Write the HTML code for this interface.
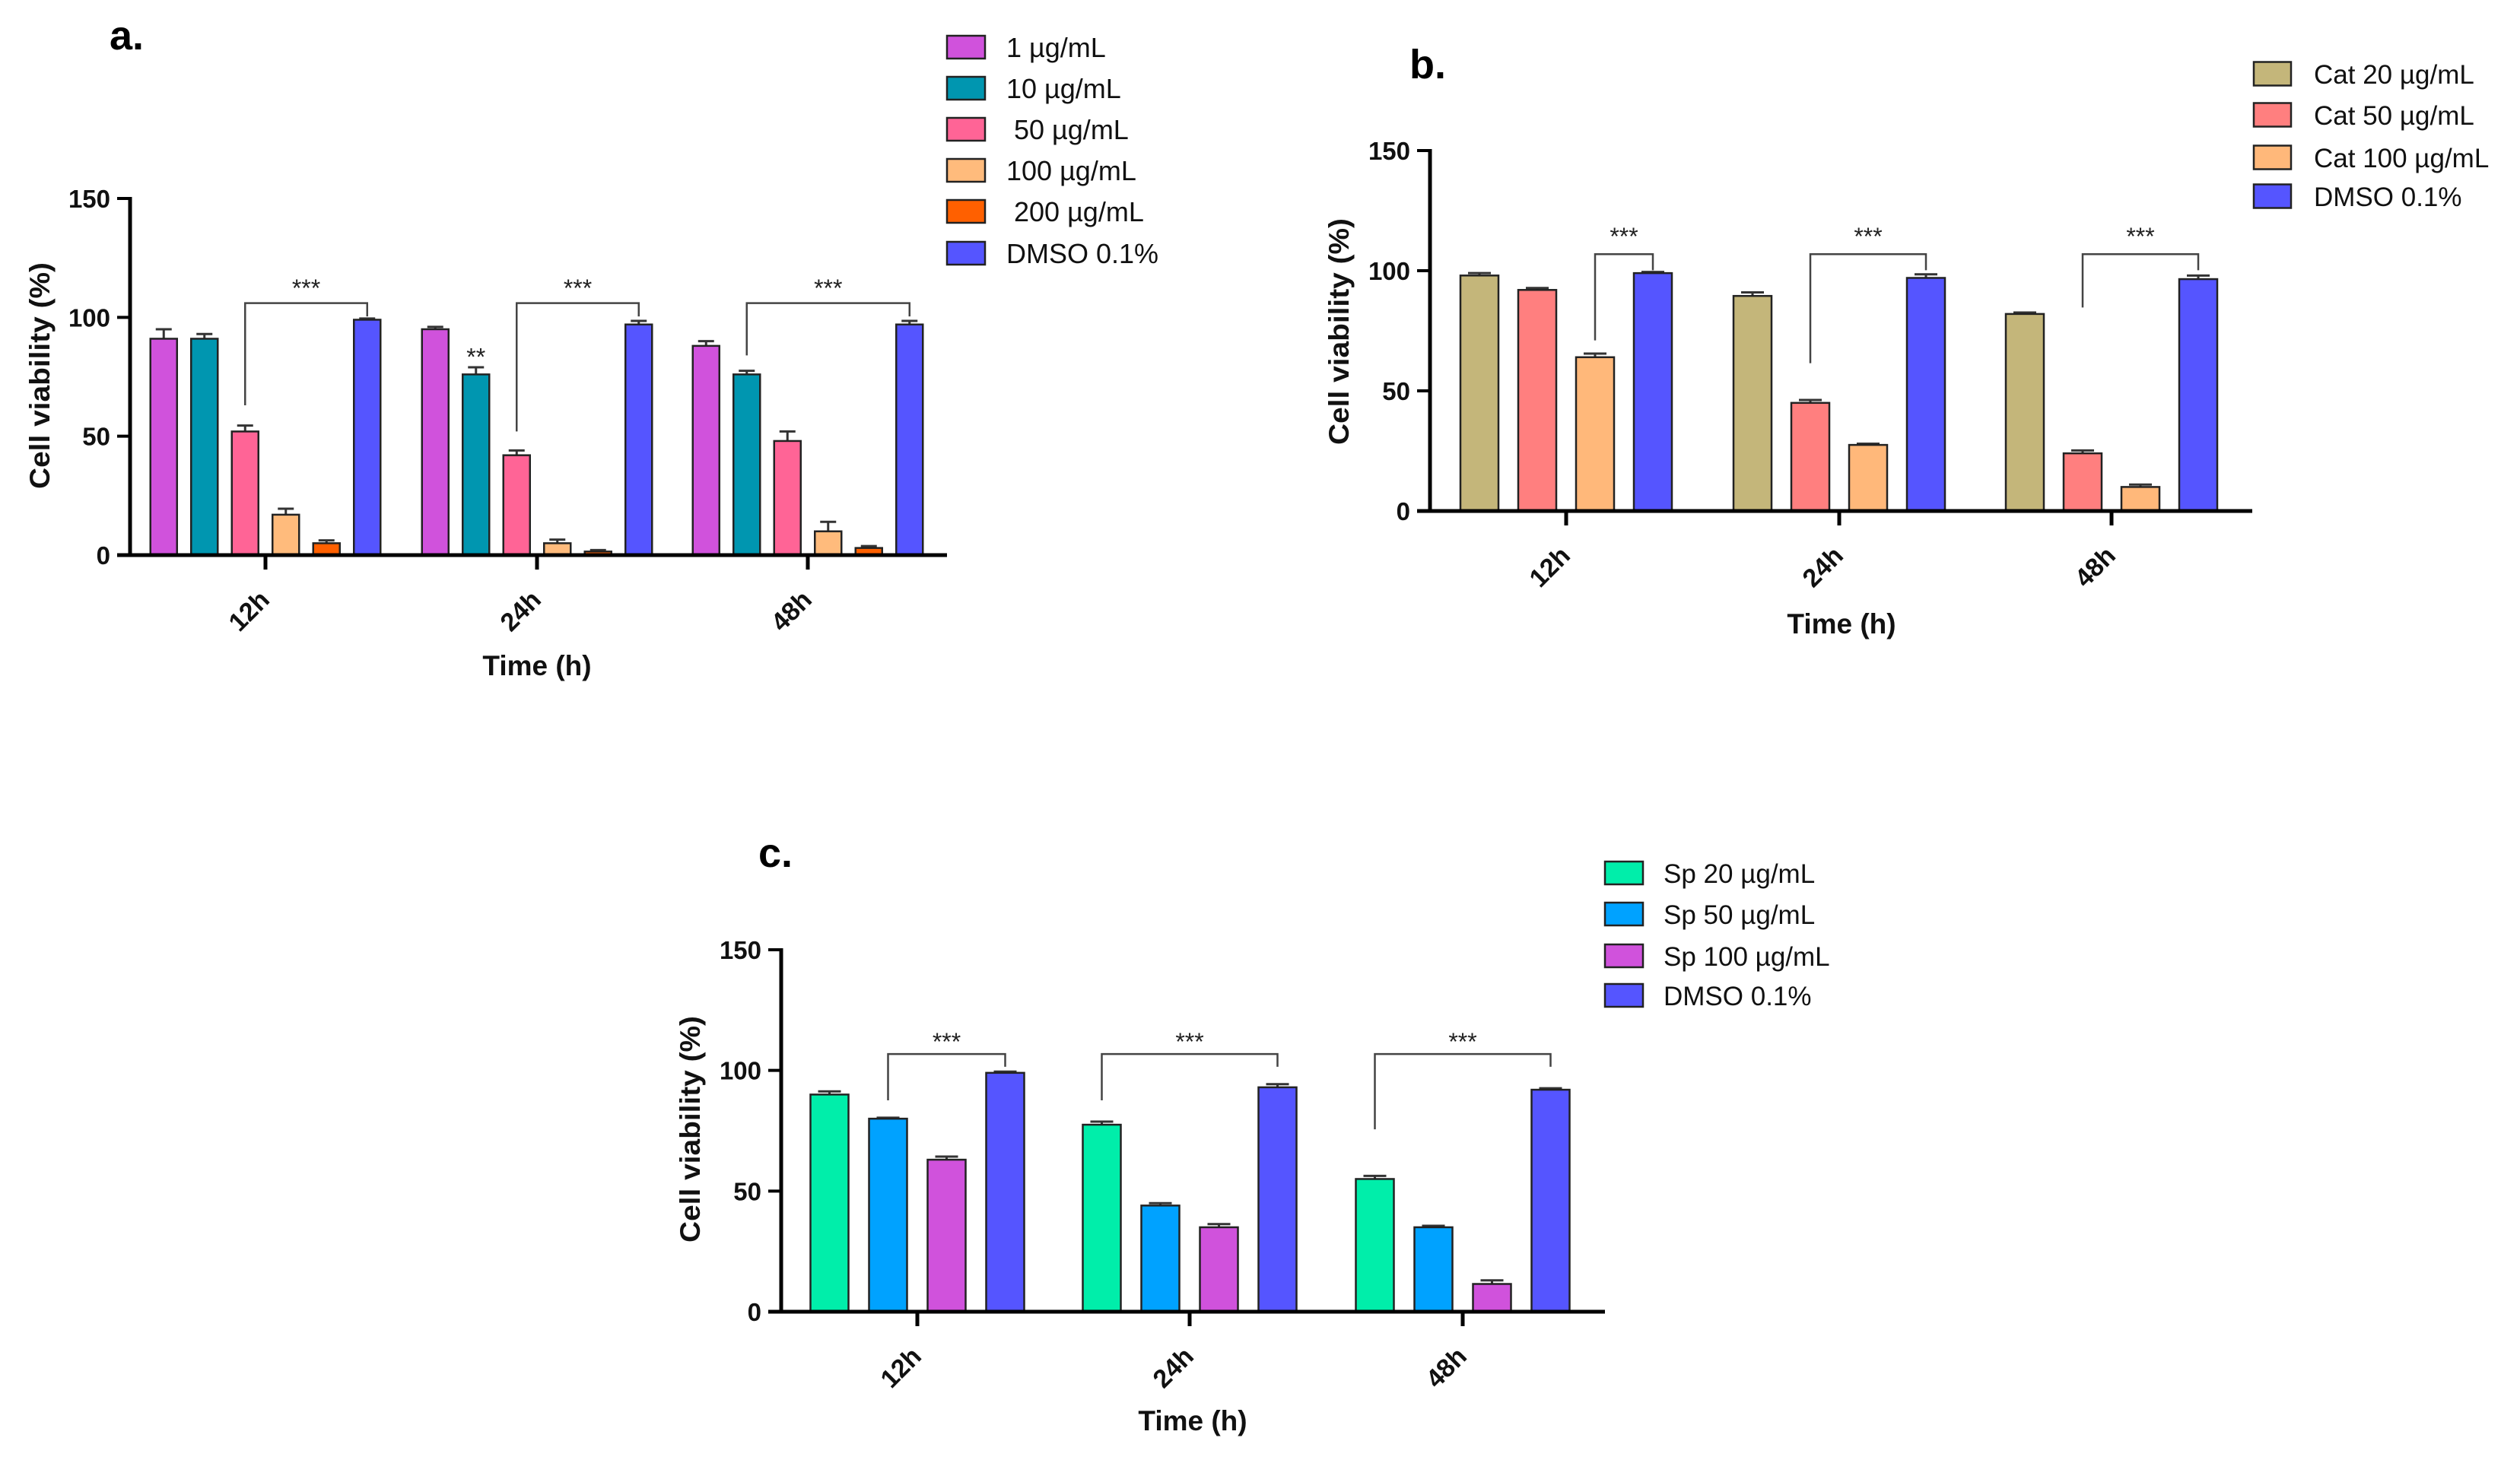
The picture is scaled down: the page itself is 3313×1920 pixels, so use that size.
<!DOCTYPE html>
<html><head><meta charset="utf-8"><style>
html,body{margin:0;padding:0;background:#fff;}
svg{display:block;font-family:"Liberation Sans",Arial,sans-serif;}
</style></head>
<body>
<svg id="fig" width="3313" height="1920" viewBox="0 0 3313 1920" xmlns="http://www.w3.org/2000/svg"></svg>
<script>
// ---------- DATA ----------
const categories = ["12h","24h","48h"];
const yTicks = [0,50,100,150];

const aSeries = ["1 µg/mL","10 µg/mL","\u00a050 µg/mL","100 µg/mL","\u00a0200 µg/mL","DMSO 0.1%"];
const aValues = [[91,95,88],[91,76,76],[52,42,48],[17,5,10],[5,1.5,3],[99,97,97]];
const aErrors = [[4,1,2],[2,3,1.5],[2.5,2,4],[2.5,1.5,4],[1.2,0.6,0.8],[0.5,1.5,1.5]];
const aBracketLeft = [2,2,1];
const aBracketLow = [63,52,84];

const bSeries = ["Cat 20 µg/mL","Cat 50 µg/mL","Cat 100 µg/mL","DMSO 0.1%"];
const bValues = [[98,89.5,82],[92,45,24],[64,27.5,10],[99,97,96.5]];
const bErrors = [[1,1.5,0.6],[0.8,1.2,1.2],[1.5,0.5,1],[0.5,1.5,1.5]];
const bBracketLeft = [2,1,1];
const bBracketLow = [71,61.5,84.7];

const cSeries = ["Sp 20 µg/mL","Sp 50 µg/mL","Sp 100 µg/mL","DMSO 0.1%"];
const cValues = [[90,77.5,55],[80,44,35],[63,35,11.5],[99,93,92]];
const cErrors = [[1.3,1.3,1.3],[0.4,1,0.6],[1.3,1.3,1.5],[0.5,1.3,0.6]];
const cBracketLeft = [1,0,0];
const cBracketLow = [87.6,87.6,75.6];

// ---------- STYLE / LAYOUT ----------
const NS = "http://www.w3.org/2000/svg";
const svg = document.getElementById("fig");
function mk(tag, attrs, parent, text){
  const e = document.createElementNS(NS, tag);
  for (const k in attrs) e.setAttribute(k, attrs[k]);
  if (text !== undefined) e.textContent = text;
  (parent||svg).appendChild(e);
  return e;
}

const panels = [
  {id:"a", letter:"a.", lx:144, ly:65, lsize:54,
   series:aSeries, values:aValues, errors:aErrors, bl:aBracketLeft, blow:aBracketLow,
   colors:["#d052dc","#0096b0","#ff6496","#ffbb7c","#ff6000","#5555ff"],
   axX:171, y0:730, y150:261, xEnd:1245, ticks:[349,706,1062], bw:35, sp:53.5,
   legX:1245, legW:50, legH:30, legY:[62,116,170,224,278,333], legTX:1323, legFont:36,
   titleX:52, titleY:494, xlabY:803, timeY:875, timeX:706,
   bTop:106, bRight:100.4, stars:112},
  {id:"b", letter:"b.", lx:1853, ly:103, lsize:54,
   series:bSeries, values:bValues, errors:bErrors, bl:bBracketLeft, blow:bBracketLow,
   colors:["#c4b67a","#ff7f7f","#ffb87a","#5555ff"],
   axX:1880, y0:672, y150:198, xEnd:2961, ticks:[2059,2418,2776], bw:50, sp:76,
   legX:2963, legW:49, legH:31, legY:[97,151,207,258], legTX:3042, legFont:35,
   titleX:1760, titleY:436, xlabY:745, timeY:820, timeX:2421,
   bTop:106.9, bRight:100.2, stars:114},
  {id:"c", letter:"c.", lx:997, ly:1140, lsize:54,
   series:cSeries, values:cValues, errors:cErrors, bl:cBracketLeft, blow:cBracketLow,
   colors:["#00eeaa","#00a2ff","#d052dc","#5555ff"],
   axX:1027, y0:1725, y150:1249, xEnd:2110, ticks:[1206,1564,1923], bw:50, sp:77,
   legX:2110, legW:50, legH:30, legY:[1148,1202,1257,1309], legTX:2187, legFont:35,
   titleX:907, titleY:1485, xlabY:1798, timeY:1868, timeX:1568,
   bTop:106.8, bRight:101.5, stars:111.5}
];

panels.forEach(p=>{
  const g = mk("g",{});
  
  
  const yS = v => p.y0 - (v/150)*(p.y0-p.y150);
  const nS = p.series.length;
  const xS = (gi, si) => p.ticks[gi] + (si-(nS-1)/2)*p.sp;

  const lt = mk("text",{x:p.lx,y:p.ly,"font-size":p.lsize,"font-weight":"bold",fill:"#000"},g,p.letter);
  
  

  p.values.forEach((ser, si)=>{
    ser.forEach((v, gi)=>{
      const cx = xS(gi, si);
      const top = yS(v);
      const er = yS(v + p.errors[si][gi]);
      const el = mk("line",{x1:cx,x2:cx,y1:top,y2:er,stroke:"#333","stroke-width":3},g);
      
      
      const cap = mk("line",{x1:cx-p.bw*0.3,x2:cx+p.bw*0.3,y1:er,y2:er,stroke:"#333","stroke-width":3},g);
      
      
      const r = mk("rect",{x:cx-p.bw/2,y:top,width:p.bw,height:p.y0-top,fill:p.colors[si],stroke:"#222","stroke-width":2.5},g);
      
      
    });
  });

  categories.forEach((c, gi)=>{
    const lx = xS(gi, p.bl[gi]);
    const rx = xS(gi, nS-1);
    const ty = yS(p.bTop);
    const pl = mk("polyline",{points:`${lx},${yS(p.blow[gi])} ${lx},${ty} ${rx},${ty} ${rx},${yS(p.bRight)}`,fill:"none",stroke:"#444","stroke-width":2.5},g);
    
    
    const st = mk("text",{x:(lx+rx)/2,y:yS(p.stars)+10,"font-size":32,"text-anchor":"middle",fill:"#222"},g,"***");
    
    
  });
  if (p.id==="a"){
    const s2 = mk("text",{x:xS(1,1),y:yS(83)+10,"font-size":32,"text-anchor":"middle",fill:"#222"},g,"**");
    
    
  }

  const ya = mk("line",{x1:p.axX,x2:p.axX,y1:p.y150-2,y2:p.y0+2,stroke:"#000","stroke-width":5},g);
  
  
  const xa = mk("line",{x1:p.axX-17,x2:p.xEnd,y1:p.y0,y2:p.y0,stroke:"#000","stroke-width":5},g);
  
  
  yTicks.forEach(t=>{
    const y = yS(t);
    const tk = mk("line",{x1:p.axX-17,x2:p.axX,y1:y,y2:y,stroke:"#000","stroke-width":4},g);
    
    
    const tl = mk("text",{x:p.axX-26,y:y+12,"font-size":33,"font-weight":"bold","text-anchor":"end",fill:"#111"},g,String(t));
    
    
  });
  categories.forEach((c, gi)=>{
    const x = p.ticks[gi];
    const tk = mk("line",{x1:x,x2:x,y1:p.y0,y2:p.y0+19,stroke:"#000","stroke-width":5},g);
    
    
    const cx = x-22, cy = p.xlabY;
    const tl = mk("text",{x:cx,y:cy+12,"font-size":34,"font-weight":"bold","text-anchor":"middle",fill:"#111",transform:`rotate(-45 ${cx} ${cy})`},g,c);
    
    
  });

  const yt = mk("text",{x:p.titleX,y:p.titleY,"font-size":37,"font-weight":"bold","text-anchor":"middle",fill:"#111",textLength:298,lengthAdjust:"spacingAndGlyphs",transform:`rotate(-90 ${p.titleX} ${p.titleY}) translate(0 13)`},g,"Cell viability  (%)");
  
  
  const xt = mk("text",{x:p.timeX,y:p.timeY+13,"font-size":37,"font-weight":"bold","text-anchor":"middle",fill:"#111"},g,"Time (h)");
  
  

  p.series.forEach((s, si)=>{
    const cy = p.legY[si];
    const sw = mk("rect",{x:p.legX,y:cy-p.legH/2,width:p.legW,height:p.legH,fill:p.colors[si],stroke:"#222","stroke-width":2.5},g);
    
    
    const tx = mk("text",{x:p.legTX,y:cy+13,"font-size":p.legFont,fill:"#111"},g,s);
    
    
  });
});
</script>
</body></html>
